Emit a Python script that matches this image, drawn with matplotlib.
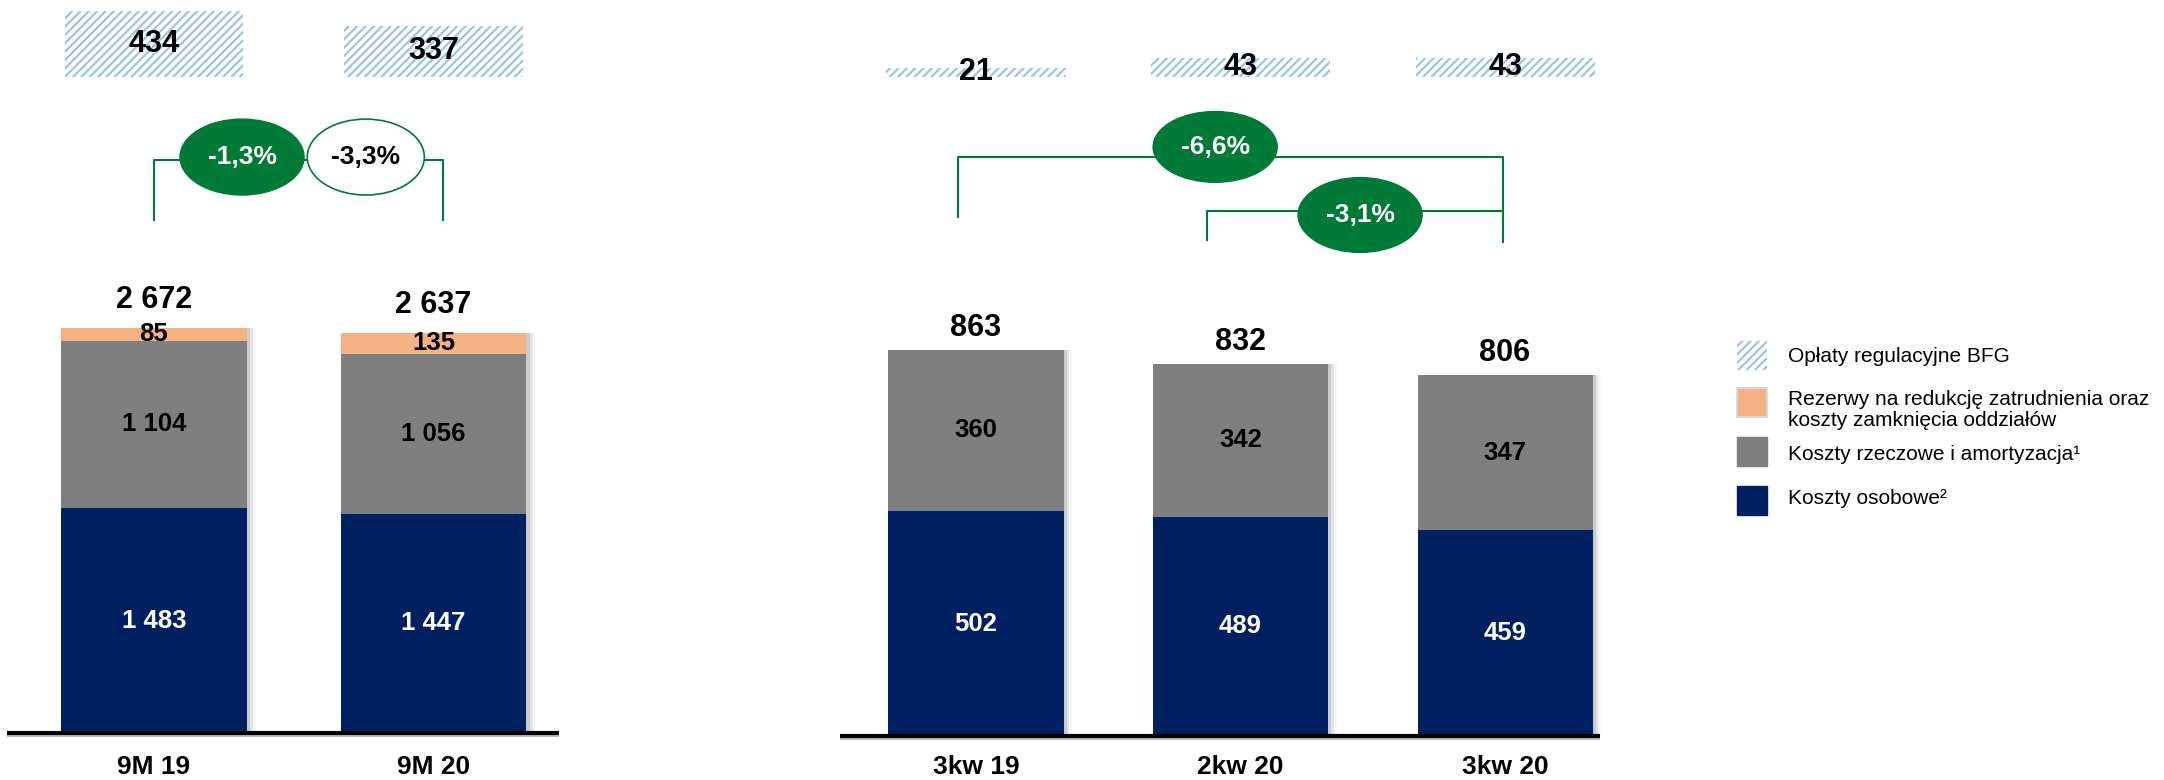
import numpy as np
import matplotlib as mpl
mpl.use('Agg')
import matplotlib.pyplot as plt
from matplotlib.patches import Ellipse, Rectangle

plt.rcParams['font.family'] = ['Liberation Sans', 'DejaVu Sans']
plt.rcParams['hatch.linewidth'] = 1.6

NAVY = '#002060'
GRAY = '#7F7F7F'
ORANGE = '#F4B183'
GREEN = '#007A37'
HATCH = '#9DC3E6'

# dane - narastajaco
okresy = ['9M 19', '9M 20']
osobowe_9m = [1483, 1447]
rzeczowe_9m = [1104, 1056]
rezerwy_9m = [85, 135]
razem_9m = [2672, 2637]
bfg_9m = [434, 337]
zmiany_9m = ['-1,3%', '-3,3%']

# dane - kwartalnie
kwartaly = ['3kw 19', '2kw 20', '3kw 20']
osobowe_kw = [502, 489, 459]
rzeczowe_kw = [360, 342, 347]
razem_kw = [863, 832, 806]
bfg_kw = [21, 43, 43]
zmiany_kw = ['-6,6%', '-3,1%']

legenda = ['Opłaty regulacyjne BFG',
           'Rezerwy na redukcję zatrudnienia oraz\nkoszty zamknięcia oddziałów',
           'Koszty rzeczowe i amortyzacja\u00b9',
           'Koszty osobowe\u00b2']

W, H = 2164, 780


def fmt(v):
    return f'{v:,}'.replace(',', ' ')


def stos(ax, x, warstwy, kolory, szer, razem, off_pt, bfg, bfg_dol, bfg_szer):
    top = np.sum(warstwy, axis=0)
    # cien
    for dx, a in [(0.012, 0.10), (0.022, 0.07), (0.032, 0.04)]:
        ax.bar(x + dx, top, szer, color='black', alpha=a, zorder=1, linewidth=0)
    dol = np.zeros(len(x))
    for wart, kol in zip(warstwy, kolory):
        b = ax.bar(x, wart, szer, bottom=dol, color=kol, zorder=3, linewidth=0)
        ax.bar_label(b, labels=[fmt(v) for v in wart], label_type='center',
                     color='white' if kol == NAVY else 'black',
                     fontsize=18.5, fontweight='bold', zorder=5)
        dol = dol + np.array(wart)
    for xi, t, r in zip(x, top, razem):
        ax.annotate(fmt(r), (xi, t), xytext=(0, off_pt), textcoords='offset points',
                    ha='center', va='center', fontsize=22, fontweight='bold')
    ax.bar(x, bfg, bfg_szer, bottom=bfg_dol, facecolor='white', edgecolor=HATCH,
           hatch='////', linewidth=0, zorder=2)
    for xi, v in zip(x, bfg):
        ax.text(xi, bfg_dol + v / 2, str(v), ha='center', va='center',
                fontsize=22, fontweight='bold', zorder=5)


def kategorie(ax, x, etykiety):
    for xi, e in zip(x, etykiety):
        ax.text(xi, 0.0167, e, transform=ax.get_xaxis_transform(), ha='center',
                va='center', fontsize=19, fontweight='bold')


fig = plt.figure(figsize=(W / 100, H / 100), dpi=100)

# --- lewy wykres: 9M ---
ax1 = fig.add_axes([0, 0, 600 / W, 1])
ax1.set_xlim(-0.551, 1.596)
ax1.set_ylim(-310, 4835)
ax1.axis('off')
x1 = np.arange(len(okresy))
stos(ax1, x1, [osobowe_9m, rzeczowe_9m, rezerwy_9m], [NAVY, GRAY, ORANGE], 0.665,
     razem_9m, 20, bfg_9m, 4327, 0.64)
ax1.plot([-0.526, 1.449], [-12, -12], color='#BBBBBB', lw=3, solid_capstyle='butt', zorder=3)
ax1.plot([-0.526, 1.449], [0, 0], color='black', lw=3, solid_capstyle='butt', zorder=4)
kategorie(ax1, x1, okresy)

yb = 3780
ax1.plot([0, 0, 1.034, 1.034], [3384, yb, yb, 3384], color=GREEN, lw=1.5, zorder=2)
ax1.add_patch(Ellipse((0.315, 3799), 0.444, 501, facecolor=GREEN, edgecolor=GREEN, zorder=3))
ax1.add_patch(Ellipse((0.758, 3799), 0.419, 501, facecolor='white', edgecolor=GREEN,
                      lw=1.2, zorder=3))
ax1.text(0.315, 3799, zmiany_9m[0], ha='center', va='center', color='white',
         fontsize=19, fontweight='bold', zorder=4)
ax1.text(0.758, 3799, zmiany_9m[1], ha='center', va='center', color='black',
         fontsize=19, fontweight='bold', zorder=4)

# --- prawy wykres: kwartaly ---
ax2 = fig.add_axes([600 / W, 0, 1100 / W, 1])
ax2.set_xlim(-1.4216, 2.737)
ax2.set_ylim(-98.2, 1642.9)
ax2.axis('off')
x2 = np.arange(len(kwartaly))
stos(ax2, x2, [osobowe_kw, rzeczowe_kw], [NAVY, GRAY], 0.662,
     razem_kw, 16, bfg_kw, 1471, 0.677)
ax2.plot([-0.514, 2.359], [-4, -4], color='#BBBBBB', lw=3, solid_capstyle='butt', zorder=3)
ax2.plot([-0.514, 2.359], [0, 0], color='black', lw=3, solid_capstyle='butt', zorder=4)
kategorie(ax2, x2, kwartaly)

ax2.plot([-0.068, -0.068, 1.992, 1.992], [1158, 1292, 1292, 1103], color=GREEN, lw=1.5, zorder=2)
ax2.plot([0.873, 0.873, 1.992], [1107, 1172, 1172], color=GREEN, lw=1.5, zorder=2)
ax2.add_patch(Ellipse((0.904, 1315), 0.469, 158, facecolor=GREEN, edgecolor=GREEN, zorder=3))
ax2.add_patch(Ellipse((1.452, 1163), 0.469, 167, facecolor=GREEN, edgecolor=GREEN, zorder=3))
ax2.text(0.904, 1315, zmiany_kw[0], ha='center', va='center', color='white',
         fontsize=19, fontweight='bold', zorder=4)
ax2.text(1.452, 1163, zmiany_kw[1], ha='center', va='center', color='white',
         fontsize=19, fontweight='bold', zorder=4)

# --- legenda ---
lax = fig.add_axes([1700 / W, 0, 464 / W, 1])
lax.set_xlim(1700, 2164)
lax.set_ylim(H, 0)
lax.axis('off')
wzory = [dict(facecolor='white', edgecolor=HATCH, hatch='////', linewidth=0),
         dict(facecolor=ORANGE, edgecolor='#D9D9D9', linewidth=1.5),
         dict(facecolor=GRAY, edgecolor=GRAY),
         dict(facecolor=NAVY, edgecolor=NAVY)]
y_patch = [341, 388, 437, 486]
y_text = [357, 410, 455, 498]
for yp, yt, st, txt in zip(y_patch, y_text, wzory, legenda):
    lax.add_patch(Rectangle((1737, yp), 30, 29, **st))
    lax.text(1788, yt, txt, ha='left', va='center', fontsize=15, linespacing=1.15)

fig.savefig('out.png', dpi=100)
